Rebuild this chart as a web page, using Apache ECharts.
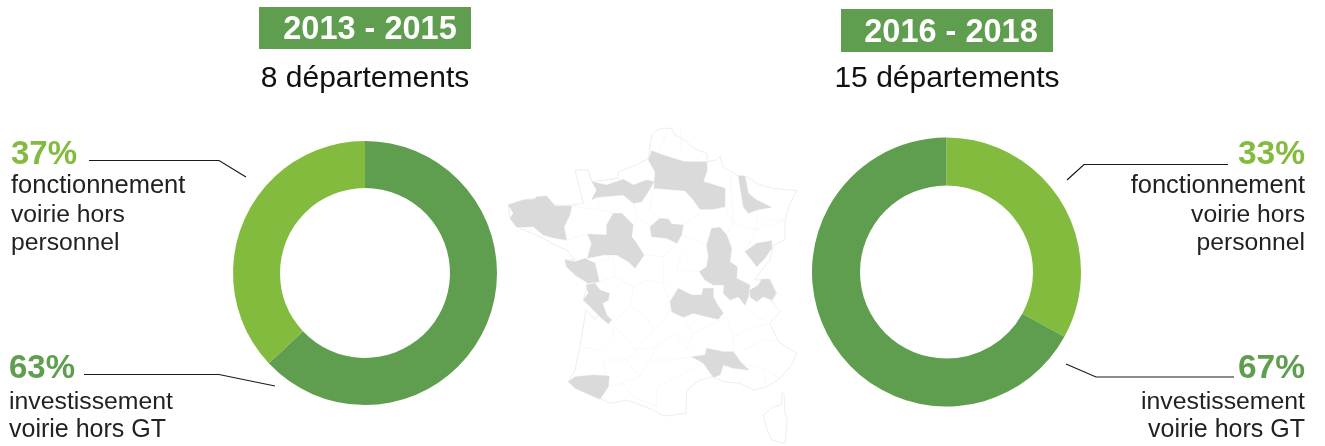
<!DOCTYPE html>
<html>
<head>
<meta charset="utf-8">
<style>html,body{margin:0;padding:0;background:#fff}#chart{width:1325px;height:446px}</style>
<script src="https://cdn.jsdelivr.net/npm/echarts@6/dist/echarts.min.js"></script>
</head>
<body>
<div id="chart"></div>
<script>
// parts in %, clockwise from the top
var names2013 = ['investissement', 'fonctionnement'];
var values2013 = [63, 37];
var names2016 = ['fonctionnement', 'investissement'];
var values2016 = [33, 67];
var periods = ['2013 - 2015', '2016 - 2018'];
var counts = ['8 départements', '15 départements'];
var labelFonct = ['fonctionnement', 'voirie hors', 'personnel'];
var labelInvest = ['investissement', 'voirie hors GT'];

var darkGreen = '#5f9d4f';
var lightGreen = '#83bb3f';
var font = '"Liberation Sans", Arial, sans-serif';

// fond de carte, in the 3x coordinates of the crop, moved back by the group below
var franceOutline = [[455,45],[480,25],[515,25],[525,45],[555,60],[580,85],[620,100],[622,125],[650,120],[660,108],[668,140],[710,165],[740,170],[770,190],[815,205],[890,212],[870,250],[855,300],[855,360],[820,375],[810,420],[770,470],[765,480],[810,478],[830,520],[815,545],[840,575],[810,610],[835,665],[890,700],[875,735],[840,775],[800,800],[760,810],[720,790],[670,785],[640,770],[600,780],[560,810],[558,880],[520,885],[490,888],[460,870],[410,850],[380,840],[330,850],[300,835],[225,800],[205,785],[225,750],[240,680],[258,570],[285,598],[300,575],[330,605],[310,570],[290,530],[250,540],[265,490],[200,440],[195,420],[225,420],[200,390],[170,378],[130,355],[60,325],[30,295],[25,255],[70,240],[110,235],[135,228],[165,255],[215,255],[250,250],[225,150],[265,150],[275,185],[355,175],[355,155],[410,135],[445,115]];
var corsica = [[845,820],[852,820],[855,880],[862,900],[855,970],[815,960],[800,925],[790,885],[820,860],[845,855]];
var greyDepts = [
  [[25,255],[70,240],[105,238],[110,230],[140,228],[165,258],[215,258],[210,285],[192,320],[200,360],[165,355],[130,345],[100,320],[50,322],[30,295],[40,280]],
  [[275,185],[320,195],[370,178],[400,195],[440,180],[462,185],[445,215],[425,245],[400,250],[370,225],[290,232],[275,240],[290,210]],
  [[455,92],[490,105],[520,115],[555,125],[620,125],[622,150],[610,185],[645,195],[675,205],[675,260],[640,268],[600,268],[580,240],[555,212],[500,208],[462,205],[465,155],[445,120]],
  [[715,168],[735,168],[745,220],[770,240],[815,262],[770,270],[745,280],[730,260]],
  [[450,320],[480,295],[505,297],[515,312],[550,315],[545,345],[530,370],[500,355],[455,350]],
  [[340,280],[365,280],[400,315],[395,350],[410,370],[432,405],[405,445],[385,425],[350,405],[310,405],[262,415],[275,370],[262,342],[320,345],[320,315]],
  [[195,420],[225,425],[255,415],[285,430],[298,485],[265,490],[225,465],[200,440]],
  [[258,495],[285,490],[300,510],[328,520],[325,540],[308,550],[320,585],[335,600],[325,612],[300,590],[275,565],[250,540],[265,520]],
  [[205,785],[225,770],[280,765],[328,768],[325,800],[300,838],[270,825],[225,805]],
  [[575,710],[615,705],[620,685],[670,695],[700,695],[725,730],[748,750],[700,745],[670,735],[660,765],[640,772],[610,730]],
  [[510,545],[535,505],[575,525],[605,525],[610,505],[640,505],[640,530],[650,550],[670,580],[655,598],[620,590],[580,580],[550,592],[515,575]],
  [[635,325],[660,322],[680,345],[695,385],[690,425],[712,440],[710,475],[750,495],[745,530],[735,555],[715,530],[690,540],[670,520],[672,495],[640,495],[615,480],[598,455],[620,440],[625,410],[620,375]],
  [[750,510],[775,495],[785,478],[808,478],[828,520],[815,540],[790,530],[770,545],[750,530]],
  [[735,395],[770,370],[815,362],[815,385],[795,415],[770,440],[755,420]]
];
var deptLines = [
  [[340,405],[345,470],[400,500],[440,480],[490,490],[510,545]],
  [[400,500],[390,560],[340,610],[380,660],[410,690],[460,630],[500,590],[510,560]],
  [[460,630],[440,590],[390,560]],
  [[550,592],[580,640],[620,620],[660,598]],
  [[580,640],[560,690],[520,640],[470,680],[410,690]],
  [[240,680],[300,690],[340,650],[340,610]],
  [[310,720],[380,720],[410,690]],
  [[310,720],[318,765]],
  [[380,720],[415,770],[450,720],[470,680]],
  [[450,720],[510,720],[575,710]],
  [[415,770],[365,790],[400,830],[470,860]],
  [[365,790],[328,800]],
  [[470,800],[510,780],[570,750],[610,730]],
  [[470,800],[470,860]],
  [[660,598],[680,590],[700,650],[700,695]],
  [[700,650],[760,620],[810,610]],
  [[730,690],[790,660],[835,665]],
  [[725,730],[790,745],[840,775]],
  [[790,745],[800,800]],
  [[735,555],[770,590],[810,610]],
  [[215,258],[300,270],[340,280]],
  [[290,232],[300,270]],
  [[400,250],[410,290],[400,315]],
  [[410,290],[450,320]],
  [[455,220],[450,270],[480,295]],
  [[550,315],[600,280],[600,268]],
  [[545,345],[620,375]],
  [[675,260],[700,310],[680,345]],
  [[700,310],[770,330],[815,300],[855,300]],
  [[770,270],[770,330],[735,395]],
  [[200,360],[262,342]],
  [[432,405],[490,410],[530,370]],
  [[490,410],[490,490]],
  [[530,450],[598,455]],
  [[530,450],[545,400]],
  [[285,430],[340,405]],
  [[298,485],[345,470]],
  [[540,25],[545,92]],
  [[505,25],[480,90]],
  [[690,160],[700,310]],
  [[855,300],[810,320]]
];

// y is the baseline here, zrender places from the top of the text
function textEl(x, y, str, size, color, align, weight) {
  return {
    type: 'text', z: 10,
    style: { x: x, y: y - size * 0.83, text: str, fill: color, align: align, verticalAlign: 'top',
      fontSize: size, fontWeight: weight || 'normal', fontFamily: font }
  };
}
function lineEl(points) {
  return { type: 'polyline', z: 10, shape: { points: points }, style: { stroke: '#1a1a1a', lineWidth: 1.2, fill: null } };
}

var mapChildren = [];
mapChildren.push({ type: 'polygon', shape: { points: franceOutline }, style: { fill: '#fff', stroke: '#eeeeee', lineWidth: 3, lineJoin: 'round' } });
mapChildren.push({ type: 'polygon', shape: { points: corsica }, style: { fill: '#fff', stroke: '#eeeeee', lineWidth: 3, lineJoin: 'round' } });
deptLines.forEach(function (l) {
  mapChildren.push({ type: 'polyline', shape: { points: l }, style: { stroke: '#f9f9f9', lineWidth: 3, fill: null, lineJoin: 'round' } });
});
greyDepts.forEach(function (d) {
  mapChildren.push({ type: 'polygon', shape: { points: d }, style: { fill: '#dadada', stroke: '#dadada', lineWidth: 1 } });
});

var graphics = [
  { type: 'group', x: 500, y: 120, scaleX: 1 / 3, scaleY: 1 / 3, silent: true, children: mapChildren },
  { type: 'rect', shape: { x: 259, y: 7, width: 212, height: 42 }, style: { fill: darkGreen } },
  { type: 'rect', shape: { x: 841, y: 9, width: 212, height: 43 }, style: { fill: darkGreen } },
  textEl(370, 41, periods[0], 32.5, '#fff', 'center', 'bold'),
  textEl(951, 44, periods[1], 32.5, '#fff', 'center', 'bold'),
  textEl(365, 89, counts[0], 30, '#111', 'center'),
  textEl(947, 89, counts[1], 30, '#111', 'center'),
  textEl(11, 166, values2013[1] + '%', 33, lightGreen, 'left', 'bold'),
  textEl(9, 380, values2013[0] + '%', 33, darkGreen, 'left', 'bold'),
  textEl(1305, 166, values2016[0] + '%', 33.5, lightGreen, 'right', 'bold'),
  textEl(1305, 380, values2016[1] + '%', 33.5, darkGreen, 'right', 'bold'),
  lineEl([[89, 160.5], [219, 160.5], [246, 177]]),
  lineEl([[84, 374.5], [219, 374.5], [275, 386]]),
  lineEl([[1228, 164.5], [1084, 164.5], [1067, 180]]),
  lineEl([[1234, 377], [1096, 377], [1066, 364]])
];
var fonctSizes = [25.5, 24.7, 24.7];
var investSizes = [24.8, 25];
labelFonct.forEach(function (t, i) {
  graphics.push(textEl(11, 194 + i * 28.7, t, fonctSizes[i], '#222', 'left'));
  graphics.push(textEl(1305, 194 + i * 28.7, t, fonctSizes[i], '#222', 'right'));
});
labelInvest.forEach(function (t, i) {
  graphics.push(textEl(9, 410 + i * 28, t, investSizes[i], '#222', 'left'));
  graphics.push(textEl(1305, 410 + i * 28, t, investSizes[i], '#222', 'right'));
});

function donut(center, radius, names, values, colors) {
  return {
    type: 'pie', center: center, radius: radius, startAngle: 90, clockwise: true,
    silent: true, animation: false, label: { show: false }, labelLine: { show: false },
    data: values.map(function (v, i) {
      return { name: names[i], value: v, itemStyle: { color: colors[i] } };
    })
  };
}

var chart = echarts.init(document.getElementById('chart'));
chart.setOption({
  animation: false,
  backgroundColor: '#fff',
  graphic: graphics,
  series: [
    donut([365, 273], [85, 132], names2013, values2013, [darkGreen, lightGreen]),
    donut([946.5, 272], [86.5, 134.5], names2016, values2016, [lightGreen, darkGreen])
  ]
});
</script>
</body>
</html>
